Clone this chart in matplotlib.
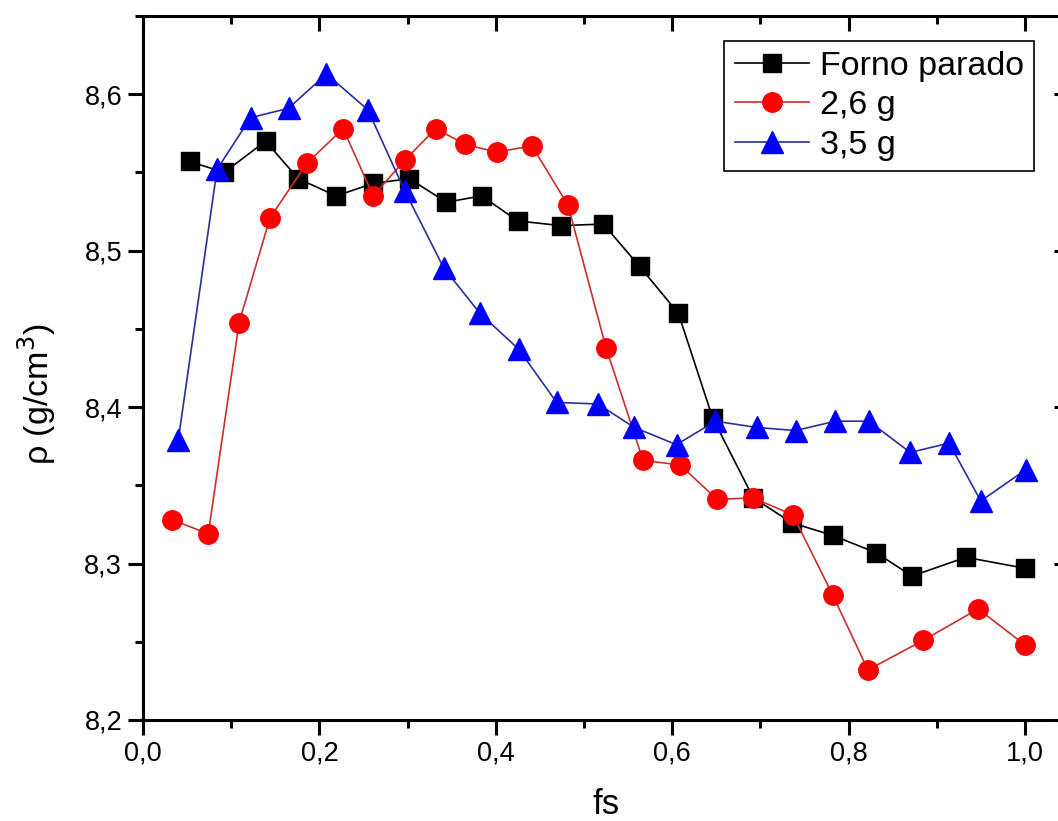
import matplotlib.pyplot as plt
from matplotlib.ticker import MultipleLocator, FuncFormatter

plt.rcParams['font.family'] = ['Liberation Sans', 'DejaVu Sans']

# Forno parado
fs_parado = [0.053, 0.092, 0.139, 0.176, 0.219, 0.261, 0.302, 0.344, 0.384, 0.425, 0.474,
             0.522, 0.563, 0.607, 0.646, 0.692, 0.736, 0.782, 0.831, 0.872, 0.933, 1.000]
rho_parado = [8.557, 8.550, 8.570, 8.546, 8.535, 8.543, 8.546, 8.531, 8.535, 8.519, 8.516,
              8.517, 8.490, 8.460, 8.393, 8.342, 8.326, 8.318, 8.307, 8.292, 8.304, 8.297]

# 2,6 g
fs_26 = [0.033, 0.074, 0.109, 0.144, 0.186, 0.227, 0.261, 0.297, 0.332, 0.365, 0.401, 0.441,
         0.482, 0.525, 0.567, 0.609, 0.651, 0.692, 0.737, 0.782, 0.822, 0.885, 0.947, 1.000]
rho_26 = [8.328, 8.319, 8.454, 8.521, 8.556, 8.578, 8.535, 8.558, 8.578, 8.568, 8.563, 8.567,
          8.529, 8.438, 8.366, 8.363, 8.341, 8.342, 8.331, 8.280, 8.232, 8.251, 8.271, 8.248]

# 3,5 g
fs_35 = [0.040, 0.084, 0.122, 0.165, 0.208, 0.255, 0.297, 0.341, 0.382, 0.426, 0.469, 0.516,
         0.557, 0.605, 0.649, 0.696, 0.740, 0.785, 0.823, 0.870, 0.914, 0.950, 1.001]
rho_35 = [8.379, 8.552, 8.585, 8.591, 8.613, 8.590, 8.538, 8.489, 8.460, 8.437, 8.403, 8.402,
          8.387, 8.376, 8.391, 8.387, 8.385, 8.391, 8.391, 8.371, 8.377, 8.340, 8.360]

fig = plt.figure(figsize=(10.58, 8.21), dpi=100)
ax = fig.add_axes([143 / 1058, 101 / 821, 926 / 1058, 704 / 821])

ax.plot(fs_parado, rho_parado, color='black', lw=1.2, marker='s', ms=13,
        mfc='black', mec='black', label='Forno parado')
ax.plot(fs_26, rho_26, color='#c8302c', lw=1.2, marker='o', ms=14,
        mfc='#ff0000', mec='#ff0000', label='2,6 g')
ax.plot(fs_35, rho_35, color='#2a2f9a', lw=1.2, marker='^', ms=16,
        mfc='#0000ff', mec='#0000ff', label='3,5 g')

ax.set_xlim(0, 1.05)
ax.set_ylim(8.2, 8.65)
ax.xaxis.set_major_locator(MultipleLocator(0.2))
ax.xaxis.set_minor_locator(MultipleLocator(0.1))
ax.yaxis.set_major_locator(MultipleLocator(0.1))
ax.yaxis.set_minor_locator(MultipleLocator(0.05))
ax.xaxis.set_major_formatter(FuncFormatter(lambda v, p: f'{v:.1f}'.replace('.', ',')))
ax.yaxis.set_major_formatter(FuncFormatter(lambda v, p: f'{v:.1f}'.replace('.', ',')))

for s in ax.spines.values():
    s.set_linewidth(2.2)

ax.tick_params(which='major', length=11, width=2.2, labelsize=19.5, pad=4)
ax.tick_params(which='minor', length=6, width=2.2)
ax.tick_params(which='both', direction='out', bottom=True, left=True)
ax2 = ax.secondary_xaxis('top')
ax2.xaxis.set_major_locator(MultipleLocator(0.2))
ax2.xaxis.set_minor_locator(MultipleLocator(0.1))
ax2.tick_params(which='major', direction='in', length=11, width=2.2, labeltop=False)
ax2.tick_params(which='minor', direction='in', length=6, width=2.2)
ax3 = ax.secondary_yaxis('right')
ax3.yaxis.set_major_locator(MultipleLocator(0.1))
ax3.yaxis.set_minor_locator(MultipleLocator(0.05))
ax3.tick_params(which='major', direction='in', length=11, width=2.2, labelright=False)
ax3.tick_params(which='minor', direction='in', length=6, width=2.2)

ax.set_xlabel('fs', fontsize=25)
ax.xaxis.set_label_coords(0.5, -0.096)
ax.set_ylabel(r'ρ (g/cm$^3$)', fontsize=24.5)
ax.yaxis.set_label_coords(-0.092, 0.463)

leg = ax.legend(loc='upper right', bbox_to_anchor=(1034 / 1058, 1 - 41 / 821),
                bbox_transform=fig.transFigure, fontsize=24.5, frameon=True, fancybox=False,
                edgecolor='black', framealpha=1, borderpad=0.3, labelspacing=0.24,
                handlelength=2.2, handletextpad=0.3, borderaxespad=0, numpoints=1)
leg.get_frame().set_linewidth(1.2)

fig.savefig('out.png', dpi=100)
